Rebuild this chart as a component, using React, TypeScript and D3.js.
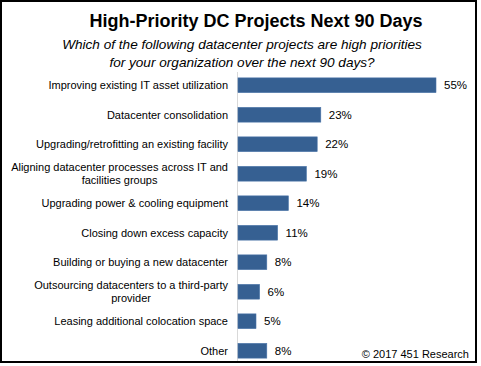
import React, { useRef, useEffect } from 'react'
import * as d3 from 'd3'

const categories = [
  'Improving existing IT asset utilization',
  'Datacenter consolidation',
  'Upgrading/retrofitting an existing facility',
  'Aligning datacenter processes across IT and|facilities groups',
  'Upgrading power & cooling equipment',
  'Closing down excess capacity',
  'Building or buying a new datacenter',
  'Outsourcing datacenters to a third-party|provider',
  'Leasing additional colocation space',
  'Other',
]
const values = [55, 23, 22, 19, 14, 11, 8, 6, 5, 8]
const title = 'High-Priority DC Projects Next 90 Days'
const subtitle = [
  'Which of the following datacenter projects are high priorities',
  'for your organization over the next 90 days?',
]
const credit = '\u00a9 2017 451 Research'

const W = 481
const H = 366
const FONT = "'Liberation Sans', Arial, sans-serif"

export default function App() {
  const ref = useRef<SVGSVGElement>(null)

  useEffect(() => {
    const svg = d3.select(ref.current)
    svg.selectAll('*').remove()

    // frame
    svg
      .append('rect')
      .attr('x', 1)
      .attr('y', 1)
      .attr('width', 475)
      .attr('height', 361)
      .attr('fill', '#fff')
      .attr('stroke', '#000')
      .attr('stroke-width', 2)

    svg
      .append('text')
      .attr('x', 256)
      .attr('y', 27)
      .attr('text-anchor', 'middle')
      .attr('font-family', FONT)
      .attr('font-weight', 'bold')
      .attr('font-size', 18)
      .attr('fill', '#000')
      .text(title)

    svg
      .selectAll('text.sub')
      .data(subtitle)
      .enter()
      .append('text')
      .attr('class', 'sub')
      .attr('x', 242)
      .attr('y', (d, i) => 49 + i * 18)
      .attr('text-anchor', 'middle')
      .attr('font-family', FONT)
      .attr('font-style', 'italic')
      .attr('font-size', 13.6)
      .attr('fill', '#000')
      .text((d) => d)

    const x0 = 238
    const xScale = d3.scaleLinear().domain([0, 55]).range([x0, 436])
    const yScale = d3
      .scaleBand()
      .domain(categories)
      .range([70.5, 365.5])
      .paddingInner(0.5)
      .paddingOuter(0.25)

    // axis line
    svg
      .append('line')
      .attr('x1', x0 - 0.5)
      .attr('x2', x0 - 0.5)
      .attr('y1', 72)
      .attr('y2', 361)
      .attr('stroke', '#d9d9d9')
      .attr('stroke-width', 1)

    svg
      .selectAll('rect.bar')
      .data(values)
      .enter()
      .append('rect')
      .attr('class', 'bar')
      .attr('x', x0)
      .attr('y', (d, i) => yScale(categories[i])!)
      .attr('width', (d) => xScale(d) - x0)
      .attr('height', yScale.bandwidth())
      .attr('fill', '#366092')
      .attr('stroke', '#4a74a8')
      .attr('stroke-width', 0.6)

    svg
      .selectAll('text.val')
      .data(values)
      .enter()
      .append('text')
      .attr('class', 'val')
      .attr('x', (d) => xScale(d) + 8)
      .attr('y', (d, i) => yScale(categories[i])! + yScale.bandwidth() / 2)
      .attr('dy', '0.35em')
      .attr('font-family', FONT)
      .attr('font-size', 11.5)
      .attr('fill', '#000')
      .text((d) => `${d}%`)

    // category labels, multi-line ones centred under the longest line
    const labelRight = 228
    const lineH = 13.5
    categories.forEach((c) => {
      const lines = c.split('|')
      const cy = yScale(c)! + yScale.bandwidth() / 2
      const g = svg.append('g')
      const texts = lines.map((l, i) =>
        g
          .append('text')
          .attr('y', cy + (i - (lines.length - 1) / 2) * lineH)
          .attr('dy', '0.35em')
          .attr('font-family', FONT)
          .attr('font-size', 11)
          .attr('fill', '#000')
          .text(l),
      )
      const widths = texts.map((t) => (t.node() as SVGTextElement).getComputedTextLength())
      const maxW = d3.max(widths) || 0
      texts.forEach((t) => {
        t.attr('text-anchor', 'middle').attr('x', labelRight - maxW / 2)
      })
    })

    svg
      .append('text')
      .attr('x', 469)
      .attr('y', 358)
      .attr('text-anchor', 'end')
      .attr('font-family', FONT)
      .attr('font-size', 11)
      .attr('fill', '#000')
      .text(credit)
  }, [])

  return (
    <svg
      ref={ref}
      width={W}
      height={H}
      style={{ position: 'absolute', left: 0, top: 0, background: '#fff' }}
    />
  )
}
